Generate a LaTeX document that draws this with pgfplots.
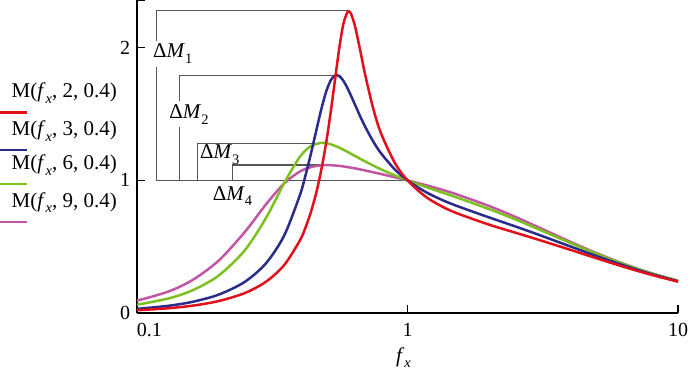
\documentclass[border=0pt]{standalone}
\usepackage{fontspec}
\setmainfont{Liberation Serif}
\usepackage{pgfplots}
\pgfplotsset{compat=1.18}
\usepackage{pgfplotstable}
\definecolor{cred}{HTML}{E2101A}
\definecolor{cblue}{HTML}{2B2B8C}
\definecolor{cgreen}{HTML}{7CC11F}
\definecolor{cmag}{HTML}{C056A4}
\definecolor{cgray}{HTML}{555555}
\newcommand{\sub}[1]{\raisebox{-0.28em}{\fontsize{14.5}{14.5}\selectfont #1}}

\pgfplotstableread{
x y
0.1 0.0206
0.13 0.0354
0.16 0.0550
0.2 0.0896
0.25 0.1499
0.3 0.2362
0.35 0.3611
0.4 0.5467
0.42 0.6460
0.44 0.7648
0.46 0.9073
0.48 1.0781
0.5 1.2804
0.52 1.5130
0.54 1.7638
0.56 2.0028
0.58 2.1841
0.6 2.2681
0.61 2.2710
0.62 2.2505
0.64 2.1609
0.67 1.9712
0.7 1.7819
0.75 1.5287
0.8 1.3496
0.9 1.1277
1 1.0
1.15 0.8869
1.3 0.8179
1.5 0.7573
2 0.6666
2.5 0.6061
3 0.5569
4 0.4764
5 0.4125
6.5 0.3398
8 0.2869
10 0.2363
}\tabred

\pgfplotstableread{
x y
0.1 0.0310
0.13 0.0537
0.16 0.0838
0.2 0.1378
0.25 0.2341
0.3 0.3755
0.35 0.5841
0.4 0.8880
0.42 1.0399
0.44 1.2054
0.46 1.3755
0.48 1.5354
0.5 1.6667
0.52 1.7538
0.54 1.7916
0.56 1.7860
0.58 1.7495
0.6 1.6951
0.62 1.6329
0.64 1.5693
0.67 1.4788
0.7 1.3983
0.75 1.2876
0.8 1.2016
0.9 1.0803
1 1.0
1.15 0.9199
1.3 0.8652
1.5 0.8122
2 0.7212
2.5 0.6532
3 0.5957
4 0.5017
5 0.4292
6.5 0.3492
8 0.2925
10 0.2394
}\tabblue

\pgfplotstableread{
x y
0.1 0.0625
0.13 0.1086
0.16 0.1703
0.2 0.2808
0.25 0.4714
0.3 0.7177
0.35 0.9790
0.4 1.1775
0.44 1.2590
0.48 1.2827
0.5 1.2804
0.52 1.2723
0.56 1.2462
0.6 1.2151
0.64 1.1839
0.7 1.1410
0.75 1.1098
0.8 1.0823
0.9 1.0367
1 1.0
1.15 0.9554
1.3 0.9183
1.5 0.8754
2 0.7843
2.5 0.7062
3 0.6381
4 0.5280
5 0.4458
6.5 0.3582
8 0.2978
10 0.2423
}\tabgreen

\pgfplotstableread{
x y
0.1 0.0930
0.13 0.1601
0.16 0.2472
0.2 0.3933
0.25 0.6092
0.3 0.8199
0.35 0.9771
0.4 1.0665
0.44 1.1003
0.48 1.1133
0.52 1.1144
0.56 1.1090
0.6 1.1003
0.64 1.0901
0.7 1.0740
0.75 1.0605
0.8 1.0475
0.9 1.0229
1 1.0
1.15 0.9679
1.3 0.9375
1.5 0.8986
2 0.8075
2.5 0.7253
3 0.6530
4 0.5369
5 0.4512
6.5 0.3610
8 0.2994
10 0.2432
}\tabmag

\begin{document}
\fontsize{20}{24}\selectfont
\begin{tikzpicture}
\begin{axis}[
  at={(0pt,0pt)}, anchor=south west,
  xmode=log, scale only axis, width=541pt, height=313pt,
  xmin=0.1, xmax=10, ymin=0, ymax=2.36,
  axis x line*=bottom, axis y line*=left,
  axis line style={-, line width=1.1pt, black},
  tick align=inside, major tick length=8pt,
  tick style={black, line width=1.1pt},
  xminorticks=false, yminorticks=false,
  xtick={0.1,1,10}, xticklabels={\makebox[0pt][l]{0.1},1,10},
  xticklabel style={anchor=base, yshift=-23pt},
  ytick={0,1,2}, yticklabels={0,1,2},
  extra y ticks={2.36}, extra y tick labels={},
  xlabel={\fontsize{21}{24}\selectfont\textit{f}\sub{\textit{x}}},
  xlabel style={at={(rel axis cs:0.5,0)}, anchor=base, yshift=-49pt, xshift=-4pt},
  clip=false,
]
\addplot[cgray, line width=1.2pt] coordinates {(0.603,2.28) (0.1183,2.28) (0.1183,1) (1,1)};
\addplot[cgray, line width=1.2pt] coordinates {(0.544,1.793) (0.1433,1.793) (0.1433,1)};
\addplot[cgray, line width=1.2pt] coordinates {(0.482,1.280) (0.1671,1.280) (0.1671,1)};
\addplot[cgray, line width=1.2pt] coordinates {(0.49,1.116) (0.2259,1.116) (0.2259,1)};
\addplot[cmag, line width=2.5pt, smooth] table {\tabmag};
\addplot[cgreen, line width=2.5pt, smooth] table {\tabgreen};
\addplot[cblue, line width=2.5pt, smooth] table {\tabblue};
\addplot[cred, line width=2.5pt, smooth] table {\tabred};
\node[anchor=base west, fill=white, inner xsep=0pt, inner ysep=3pt, font=\fontsize{21}{24}\selectfont] at (axis cs:0.1146,1.923) {Δ\textit{M}\sub{1}};
\node[anchor=base west, fill=white, inner xsep=0pt, inner ysep=3pt, font=\fontsize{21}{24}\selectfont] at (axis cs:0.1316,1.468) {Δ\textit{M}\sub{2}};
\node[anchor=base west, inner xsep=0pt, font=\fontsize{21}{24}\selectfont] at (axis cs:0.171,1.167) {Δ\textit{M}\sub{3}};
\node[anchor=base west, inner xsep=0pt, font=\fontsize{21}{24}\selectfont] at (axis cs:0.1905,0.852) {Δ\textit{M}\sub{4}};
\end{axis}
% legend
\begin{scope}[every node/.style={anchor=base east, inner sep=0pt, font=\fontsize{21}{24}\selectfont}]
\node at (-20pt,215pt) {M(\textit{f}\sub{\textit{x}}, 2, 0.4)};
\node at (-20pt,177.5pt) {M(\textit{f}\sub{\textit{x}}, 3, 0.4)};
\node at (-20pt,143pt) {M(\textit{f}\sub{\textit{x}}, 6, 0.4)};
\node at (-20pt,106pt) {M(\textit{f}\sub{\textit{x}}, 9, 0.4)};
\end{scope}
\draw[cred, line width=2.4pt] (-137pt,200.3pt) -- (-110pt,200.3pt);
\draw[cblue, line width=2.4pt] (-137pt,163pt) -- (-110pt,163pt);
\draw[cgreen, line width=2.4pt] (-137pt,128.7pt) -- (-110pt,128.7pt);
\draw[cmag, line width=2.4pt] (-137pt,91.3pt) -- (-110pt,91.3pt);
\pgfresetboundingbox
\path (-137pt,-62pt) rectangle (551pt,313pt);
\end{tikzpicture}
\end{document}
